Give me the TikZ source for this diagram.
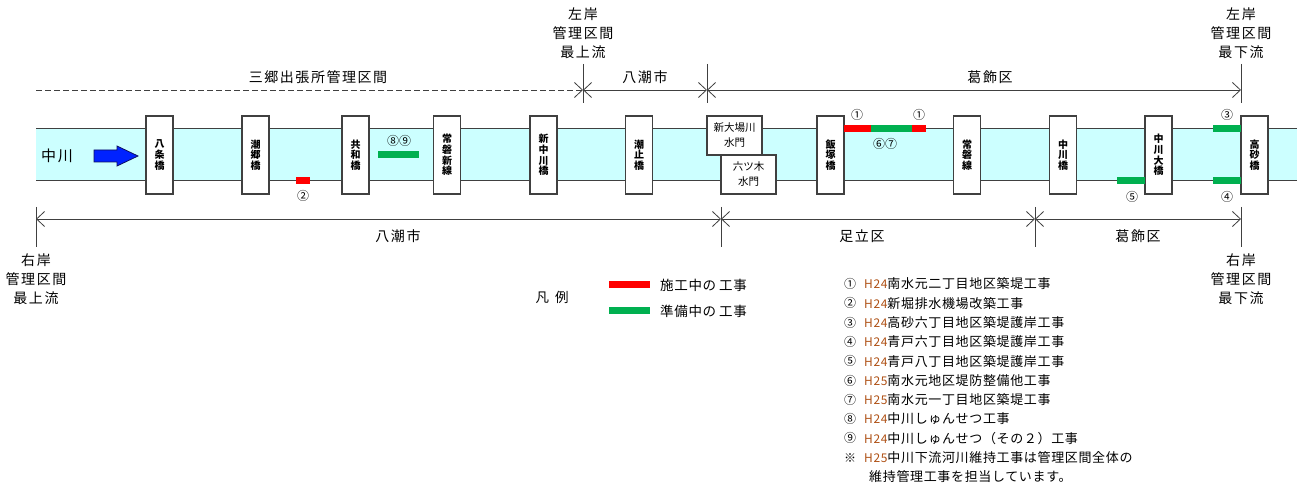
\documentclass[tikz,border=0pt]{standalone}
\usepackage{fontspec}
\setmainfont{Noto Sans CJK JP}
\newfontfamily\spacedA{Noto Sans CJK JP}[LetterSpace=11]
\newfontfamily\spacedB{Noto Sans CJK JP}[LetterSpace=5]
\usetikzlibrary{arrows.meta}
\definecolor{ln}{HTML}{404040}
\definecolor{river}{HTML}{CCFFFF}
\definecolor{wred}{HTML}{FF0000}
\definecolor{wgreen}{HTML}{00B050}
\definecolor{hcol}{RGB}{175,80,20}
\definecolor{arrblue}{HTML}{0022FF}
\definecolor{arrnavy}{HTML}{101060}
\tikzset{
  >={Straight Barb[length=8pt,width=15pt]},
  dimline/.style={draw=ln, line width=0.8pt},
  tick/.style={draw=ln, line width=0.8pt},
  bridge/.style={draw=ln, line width=1.1pt, fill=white, inner sep=0pt,
    minimum width=27pt, minimum height=78pt, align=center,
    font=\fontsize{10}{10.6}\selectfont\bfseries},
  gate/.style={draw=ln, line width=1.1pt, fill=white, inner sep=0pt,
    minimum width=55pt, minimum height=39pt, align=center,
    font=\fontsize{10.5}{15}\selectfont},
  bigtxt/.style={font=\spacedA\fontsize{14}{19}\selectfont, align=center, text=black, inner sep=0pt},
  circ/.style={font=\fontsize{12}{12}\selectfont, inner sep=0pt},
  listtxt/.style={font=\spacedB\fontsize{13}{13}\selectfont, anchor=west, inner sep=0pt},
  redbar/.style={fill=wred},
  greenbar/.style={fill=wgreen},
}
\newcommand{\hh}[1]{{\color{hcol}\fontsize{12}{12}\selectfont #1}}
\begin{document}
\begin{tikzpicture}[x=1pt,y=-1pt]
\useasboundingbox (0,0) rectangle (1300,486);
\fill[white] (0,0) rectangle (1300,486);

% river
\fill[river] (36,129) rectangle (1297,181);
\coordinate (rtl) at (36,129); \coordinate (rtr) at (1297,129);
\coordinate (rbl) at (36,181); \coordinate (rbr) at (1297,181);
\draw[ln, line width=1pt] (rtl) -- (rtr);
\draw[ln, line width=1pt] (rbl) -- (rbr);

\node[font=\spacedA\fontsize{15}{15}\selectfont, inner sep=0pt] (nakagawa) at (57,156) {中川};
\draw[fill=arrblue, draw=arrnavy, line width=0.8pt]
  (94,150) -- (117,150) -- (117,146) -- (138,156) -- (117,166) -- (117,162) -- (94,162) -- cycle;

% bridges
\node[bridge] (b1) at (159.5,155) {八\\条\\橋};
\node[bridge] (b2) at (255.5,155) {潮\\郷\\橋};
\node[bridge] (b3) at (355.5,155) {共\\和\\橋};
\node[bridge] (b4) at (447,155) {常\\磐\\新\\線};
\node[bridge] (b5) at (543.5,155) {新\\中\\川\\橋};
\node[bridge] (b6) at (639,155) {潮\\止\\橋};
\node[gate] (g2) at (748.5,174.5) {六ツ木\\水門};
\node[gate] (g1) at (734.5,135.5) {新大場川\\水門};
\node[bridge] (b7) at (830.5,155) {飯\\塚\\橋};
\node[bridge] (b8) at (967,155) {常\\磐\\線};
\node[bridge] (b9) at (1063,155) {中\\川\\橋};
\node[bridge] (b10) at (1158.5,155) {中\\川\\大\\橋};
\node[bridge] (b11) at (1254.5,155) {高\\砂\\橋};

% work bars
\fill[redbar] (296,177) rectangle (310,184);
\node[circ] (c2) at (303,196) {②};
\fill[greenbar] (378,151) rectangle (419,158);
\node[circ] (c89) at (399,141) {⑧⑨};
\fill[redbar] (844,125) rectangle (871,132);
\fill[greenbar] (871,125) rectangle (912,132);
\fill[redbar] (912,125) rectangle (926,132);
\node[circ] (c1a) at (857,115) {①};
\node[circ] (c1b) at (919,115) {①};
\node[circ] (c67) at (885,144) {⑥⑦};
\fill[greenbar] (1213,125) rectangle (1241,132);
\node[circ] (c3) at (1227,115) {③};
\fill[greenbar] (1213,177) rectangle (1241,184);
\node[circ] (c4) at (1227,197) {④};
\fill[greenbar] (1117,177) rectangle (1145,184);
\node[circ] (c5) at (1132,197) {⑤};

% top dimension
\coordinate (t0) at (36,90);
\coordinate (t1) at (583,90);
\coordinate (t2) at (707,90);
\coordinate (t3) at (1241,90);
\draw[dimline, dash pattern=on 6pt off 3pt, ->] (t0) -- (t1);
\draw[dimline, <->] (t1) -- (t2);
\draw[dimline, <->] (t2) -- (t3);
\foreach \c in {t1,t2,t3} \draw[tick] ([yshift=26pt]\c) -- ([yshift=-13pt]\c);
\node[bigtxt] (lab1) at (318,77) {三郷出張所管理区間};
\node[bigtxt] (lab2) at (645,77) {八潮市};
\node[bigtxt] (lab3) at (990,77) {葛飾区};
\node[bigtxt] (lu) at (583,33) {左岸\\管理区間\\最上流};
\node[bigtxt] (ld) at (1241,33) {左岸\\管理区間\\最下流};

% bottom dimension
\coordinate (u0) at (36,219);
\coordinate (u1) at (721,219);
\coordinate (u2) at (1035,219);
\coordinate (u3) at (1241,219);
\draw[dimline, <->] (u0) -- (u1);
\draw[dimline, <->] (u1) -- (u2);
\draw[dimline, <->] (u2) -- (u3);
\foreach \c in {u0,u1,u2,u3} \draw[tick] ([yshift=12pt]\c) -- ([yshift=-28pt]\c);
\node[bigtxt] (blab1) at (398,236) {八潮市};
\node[bigtxt] (blab2) at (862,236) {足立区};
\node[bigtxt] (blab3) at (1138,236) {葛飾区};
\node[bigtxt] (ru) at (36,279) {右岸\\管理区間\\最上流};
\node[bigtxt] (rd) at (1241,279) {右岸\\管理区間\\最下流};

% legend
\node[font=\fontsize{13.5}{13.5}\selectfont, inner sep=0pt] (hanrei) at (552,297) {凡\hspace{6pt}例};
\fill[redbar] (609,281) rectangle (650,288);
\fill[greenbar] (609,307) rectangle (650,314);
\node[listtxt, font=\spacedB\fontsize{13.5}{13.5}\selectfont] (leg1) at (660,285) {施工中の\hspace{3pt}工事};
\node[listtxt, font=\spacedB\fontsize{13.5}{13.5}\selectfont] (leg2) at (660,311) {準備中の\hspace{3pt}工事};

% list
\foreach \i/\m/\t in {
  0/①/{\hh{H24}南水元二丁目地区築堤工事},
  1/②/{\hh{H24}新堀排水機場改築工事},
  2/③/{\hh{H24}高砂六丁目地区築堤護岸工事},
  3/④/{\hh{H24}青戸六丁目地区築堤護岸工事},
  4/⑤/{\hh{H24}青戸八丁目地区築堤護岸工事},
  5/⑥/{\hh{H25}南水元地区堤防整備他工事},
  6/⑦/{\hh{H25}南水元一丁目地区築堤工事},
  7/⑧/{\hh{H24}中川しゅんせつ工事},
  8/⑨/{\hh{H24}中川しゅんせつ（その２）工事},
  9/※/{\hh{H25}中川下流河川維持工事は管理区間全体の}} {
  \node[circ] (m\i) at (850,284+19.3*\i) {\m};
  \node[listtxt] (l\i) at (864,284+19.3*\i) {\t};
}
\node[listtxt] (l10) at (869,477) {維持管理工事を担当しています。};
\end{tikzpicture}
\end{document}
